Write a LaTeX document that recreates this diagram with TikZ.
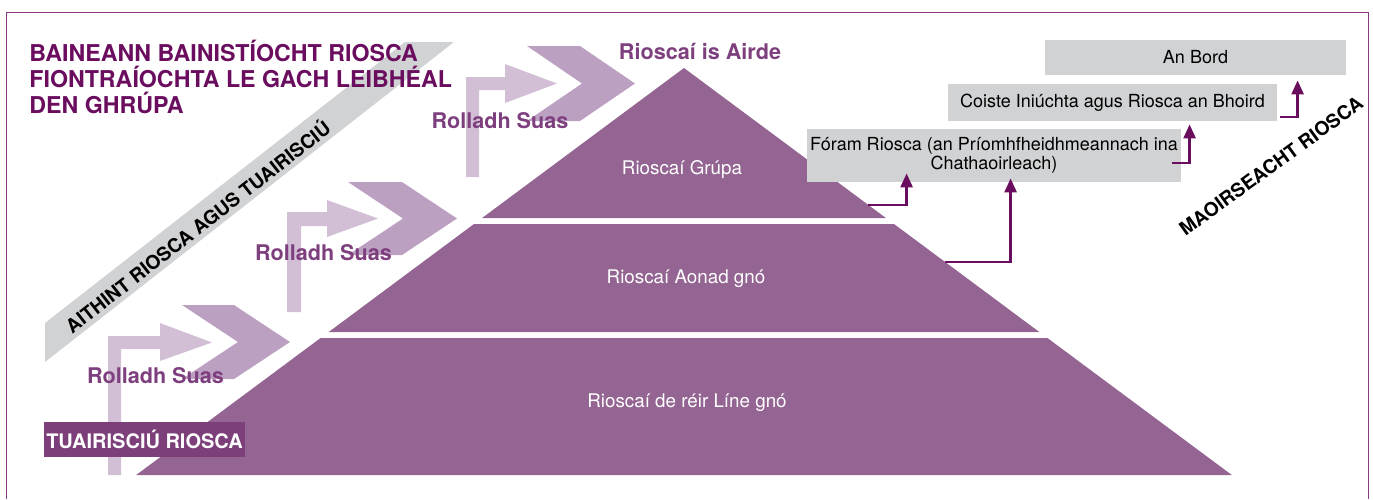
\documentclass[tikz,border=0pt]{standalone}
\usepackage{fontspec}
\setmainfont{TeX Gyre Heros}
\usetikzlibrary{arrows.meta}
\definecolor{titlepurple}{RGB}{106,13,95}
\definecolor{framepurple}{RGB}{138,58,132}
\definecolor{tierpurple}{RGB}{148,100,146}
\definecolor{labelpurple}{RGB}{125,63,122}
\definecolor{rollpurple}{RGB}{125,63,125}
\definecolor{liftlilac}{RGB}{210,191,214}
\definecolor{chevlilac}{RGB}{188,160,194}
\definecolor{boxgray}{RGB}{209,210,212}
\tikzset{
  tier/.style={fill=tierpurple},
  tiertext/.style={text=white,font=\fontsize{9.4}{11}\selectfont,anchor=base},
  riskbox/.style={fill=boxgray,inner sep=0pt,align=center,font=\fontsize{9}{9.5}\selectfont},
  conn/.style={draw=titlepurple,line width=1.25pt,-{Triangle[width=6pt,length=7pt]}},
  liftarrow/.style={fill=liftlilac},
  chevron/.style={fill=chevlilac},
  rolltext/.style={text=rollpurple,font=\fontsize{10.8}{13}\selectfont\bfseries},
  slanttext/.style={font=\fontsize{9.6}{11}\selectfont\bfseries}
}
\begin{document}
\begin{tikzpicture}[x=0.5pt,y=-0.5pt]
\useasboundingbox (0,0) rectangle (1373,499);
% frame
\draw[framepurple,line width=0.75pt] (6.5,499) -- (6.5,12.5) -- (1368.5,12.5) -- (1368.5,499);
% grey band
\fill[boxgray] (45,362) -- (45,323) -- (405,42) -- (454,42) -- cycle;
\node[slanttext,rotate=38] (aithint) at (197,226) {AITHINT RIOSCA AGUS TUAIRISCIÚ};
% roll-up arrows
\fill[liftarrow] (108,475) -- (108,336) -- (160,336) -- (160,323) -- (212,342.5) -- (160,361) -- (160,349) -- (121,349) -- (121,475) -- cycle;
\fill[chevron] (182,305) -- (234,305) -- (290,342) -- (234,379) -- (182,379) -- (238,342) -- cycle;
\fill[liftarrow] (287,312) -- (287,212) -- (327,212) -- (327,200) -- (378,218.5) -- (327,237) -- (327,226) -- (301,226) -- (301,312) -- cycle;
\fill[chevron] (348,182) -- (402,182) -- (457,218.5) -- (402,255) -- (348,255) -- (403,218.5) -- cycle;
\fill[liftarrow] (466,177) -- (466,77) -- (505,77) -- (505,64) -- (557,83.5) -- (505,103) -- (505,90) -- (479,90) -- (479,177) -- cycle;
\fill[chevron] (527,46) -- (580,46) -- (635,83.5) -- (580,121) -- (527,121) -- (582,83.5) -- cycle;
\node[rolltext] (roll1) at (155.5,376) {Rolladh Suas};
\node[rolltext] (roll2) at (323.5,252.5) {Rolladh Suas};
\node[rolltext] (roll3) at (500,120.5) {Rolladh Suas};
% pyramid
\fill[tier] (684,68) -- (885.9,218) -- (482.1,218) -- cycle;
\fill[tier] (474,224) -- (894,224) -- (1039.3,332) -- (328.7,332) -- cycle;
\fill[tier] (320.6,338) -- (1047.4,338) -- (1231.8,475) -- (136.2,475) -- cycle;
\node[tiertext] (grupa) at (682,174) {Rioscaí Grúpa};
\node[tiertext] (aonad) at (686,283) {Rioscaí Aonad gnó};
\node[tiertext] (line) at (687,407) {Rioscaí de réir Líne gnó};
\node[rolltext] (airde) at (700,51.5) {Rioscaí is Airde};
\coordinate (grpEdge) at (868.4,205);
\coordinate (unitEdge) at (945.1,262);
% titles
\node[anchor=base west,inner sep=0pt,align=left,text=titlepurple,
  font=\fontsize{11.6}{13}\selectfont\bfseries] (title) at (29,113)
  {BAINEANN BAINISTÍOCHT RIOSCA\\FIONTRAÍOCHTA LE GACH LEIBHÉAL\\DEN GHRÚPA};
\node[fill=labelpurple,text=white,inner sep=0pt,minimum width=100.5pt,minimum height=17.5pt,
  font=\fontsize{10}{12}\selectfont\bfseries] (tuairisc) at (144.5,439.5) {TUAIRISCIÚ RIOSCA};
% oversight boxes
\node[riskbox,minimum width=150.5pt,minimum height=17.5pt] (bord) at (1195.5,57.5) {An Bord};
\node[riskbox,minimum width=164.5pt,minimum height=18.5pt] (coiste) at (1112.5,102.5) {Coiste Iniúchta agus Riosca an Bhoird};
\node[riskbox,minimum width=187pt,minimum height=26.5pt] (foram) at (994,155.5) {Fóram Riosca (an Príomhfheidhmeannach ina\\Chathaoirleach)};
\node[slanttext,rotate=36] (maoirseacht) at (1271,166) {MAOIRSEACHT RIOSCA};
% connectors
\draw[conn] (grpEdge) -| ([xshift=50pt,yshift=4.5pt]foram.south west);
\draw[conn] (unitEdge) -| ([xshift=102pt,yshift=2pt]foram.south west);
\draw[conn] ([xshift=-4.5pt,yshift=-3.75pt]foram.east) -| ([xshift=121pt,yshift=-1.5pt]coiste.south west);
\draw[conn] ([xshift=1.5pt,yshift=-7.25pt]coiste.east) -| ([xshift=126.5pt,yshift=-2.5pt]bord.south west);
\end{tikzpicture}
\end{document}
